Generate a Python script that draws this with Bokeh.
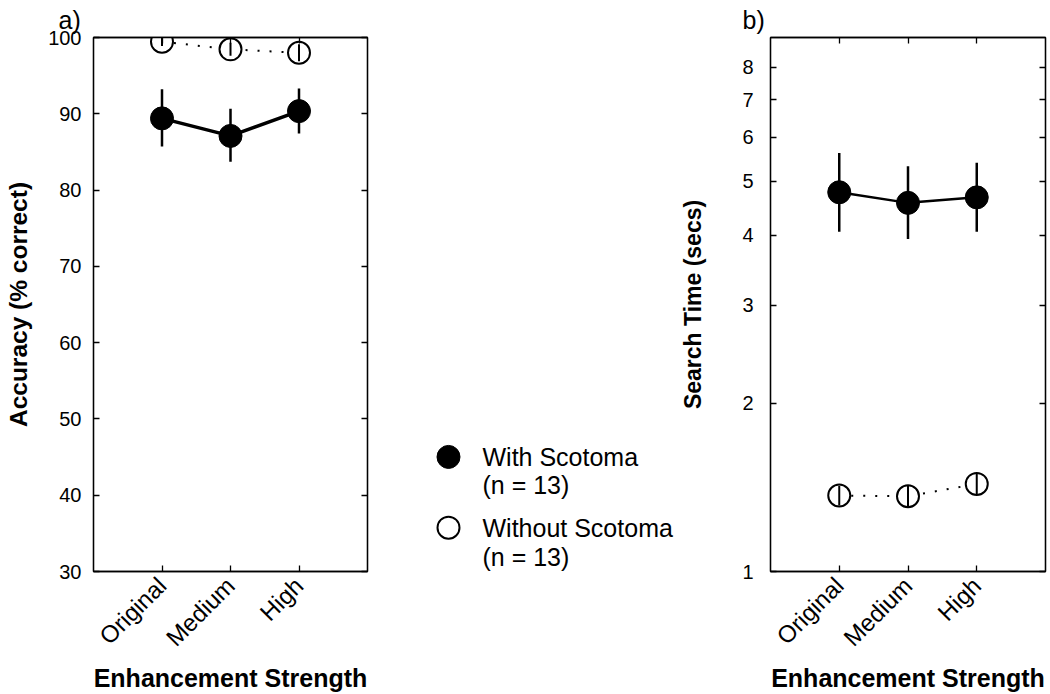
import numpy as np
from bokeh.plotting import figure
from bokeh.models import Range1d, FixedTicker, LinearAxis, LogAxis, BasicTickFormatter
from bokeh.layouts import row
from bokeh.embed import file_html
from bokeh.resources import INLINE
from bokeh.core.properties import value

# ---------------- data ----------------
conditions = ["Original", "Medium", "High"]
xpos = [1, 2, 3]

acc_with = [89.4, 87.1, 90.35]
acc_with_lo = [85.7, 83.7, 87.4]
acc_with_hi = [93.2, 90.65, 93.3]
acc_without = [99.45, 98.45, 98.0]
acc_without_lo = [98.9, 97.6, 96.9]
acc_without_hi = [100.05, 99.3, 99.1]

time_with = [4.78, 4.575, 4.68]
time_with_lo = [4.06, 3.94, 4.06]
time_with_hi = [5.62, 5.32, 5.40]
time_without = [1.368, 1.364, 1.435]
time_without_lo = [1.313, 1.305, 1.377]
time_without_hi = [1.425, 1.425, 1.496]

acc_ticks = [30, 40, 50, 60, 70, 80, 90, 100]
time_ticks = [1, 2, 3, 4, 5, 6, 7, 8]

legend_labels = [["With Scotoma", "(n = 13)"], ["Without Scotoma", "(n = 13)"]]

FONT = "Liberation Sans"
H = 694
TOP = 37
BOTTOM = 121


def style_axis(ax, label_size):
    ax.major_tick_in = 6
    ax.major_tick_out = 0
    ax.minor_tick_line_color = None
    ax.axis_line_color = "black"
    ax.axis_line_width = 1.3
    ax.major_tick_line_color = "black"
    ax.major_tick_line_width = 1.3
    ax.major_label_text_font = FONT
    ax.major_label_text_font_size = label_size
    ax.major_label_text_color = "black"
    ax.axis_label_text_font = FONT
    ax.axis_label_text_font_style = "bold"
    ax.axis_label_text_color = "black"


def hide_labels(ax):
    ax.major_label_standoff = 0
    ax.major_label_text_font_size = "0px"
    ax.major_label_text_color = None


def make_panel(y_range, log, ylabel, ylabel_size, yticks, tag, width, bl, br,
               tag_offset, ylab_standoff, ytick_standoff):
    p = figure(width=width, height=H, x_range=Range1d(0, 4), y_range=y_range,
               y_axis_type="log" if log else "linear",
               output_backend="svg", toolbar_location=None,
               min_border_left=bl, min_border_right=br,
               min_border_top=TOP, min_border_bottom=BOTTOM)
    p.grid.visible = False
    p.outline_line_color = "black"
    p.outline_line_width = 1.3
    p.background_fill_color = "white"
    p.border_fill_color = "white"

    # panel tag "a)" / "b)"
    p.title.text = tag
    p.title.text_font = FONT
    p.title.text_font_size = "25px"
    p.title.text_font_style = "normal"
    p.title.text_color = "black"
    p.title.align = "left"
    p.title.offset = tag_offset
    p.title.standoff = 7

    xa = p.xaxis[0]
    style_axis(xa, "24px")
    xa.ticker = FixedTicker(ticks=xpos)
    xa.major_label_overrides = {x: c for x, c in zip(xpos, conditions)}
    xa.major_label_orientation = np.pi / 4
    xa.major_label_standoff = 10
    xa.axis_label = "Enhancement Strength"
    xa.axis_label_text_font_size = "25px"
    xa.axis_label_standoff = 0

    ya = p.yaxis[0]
    style_axis(ya, "20px")
    ya.ticker = FixedTicker(ticks=yticks)
    ya.major_label_standoff = ytick_standoff
    ya.axis_label = ylabel
    ya.axis_label_text_font_size = ylabel_size
    ya.axis_label_standoff = ylab_standoff
    if log:
        ya.formatter = BasicTickFormatter()

    top = LinearAxis(ticker=FixedTicker(ticks=xpos))
    style_axis(top, "0px")
    hide_labels(top)
    p.add_layout(top, "above")

    right = (LogAxis if log else LinearAxis)(ticker=FixedTicker(ticks=yticks))
    style_axis(right, "0px")
    hide_labels(right)
    p.add_layout(right, "right")
    return p


def draw(p, y, lo, hi, yo, lo_o, hi_o, line_w):
    # without scotoma (open, dotted)
    p.line(xpos, yo, line_color="black", line_width=2, line_dash="2 10")
    p.scatter(xpos, yo, size=22, fill_color="white", line_color="black", line_width=2)
    p.segment(xpos, lo_o, xpos, hi_o, line_color="black", line_width=2)
    # with scotoma (filled, solid)
    p.line(xpos, y, line_color="black", line_width=line_w)
    p.segment(xpos, lo, xpos, hi, line_color="black", line_width=2.5)
    p.scatter(xpos, y, size=23, fill_color="black", line_color="black")


p1 = make_panel(Range1d(30, 100), False, "Accuracy (% correct)", "24.5px", acc_ticks, "a)",
                376, 93, 9, -35, 13, 12)
draw(p1, acc_with, acc_with_lo, acc_with_hi, acc_without, acc_without_lo, acc_without_hi, 3.5)

p2 = make_panel(Range1d(1, 9.05), True, "Search Time (secs)", "23px", time_ticks, "b)",
                373, 94, 4, -28, 33, 17)
draw(p2, time_with, time_with_lo, time_with_hi, time_without, time_without_lo, time_without_hi, 2.5)

# ---------------- legend panel ----------------
# coordinates of this panel are page pixels (its frame is aligned with the other frames)
MW = 300
m = figure(width=MW, height=H, x_range=Range1d(0, MW), y_range=Range1d(H - BOTTOM, TOP),
           output_backend="svg", toolbar_location=None, min_border=0,
           x_axis_type=None, y_axis_type=None)
m.grid.visible = False
m.outline_line_color = None

key_x = 72
text_x = 106
key_y = [458, 529]
line_y = [[458, 486], [529, 558]]
m.scatter([key_x], [key_y[0]], size=23, fill_color="black", line_color="black")
m.scatter([key_x], [key_y[1]], size=22, fill_color="white", line_color="black", line_width=2)
texts, ys = [], []
for labs, yy in zip(legend_labels, line_y):
    texts += labs
    ys += yy
m.text(x=[text_x] * len(texts), y=ys, text=texts, text_font=value(FONT),
       text_font_size="25px", text_baseline="alphabetic", text_align="left", text_color="black")

layout = row(p1, m, p2)
open("out.html", "w").write(file_html(layout, INLINE))
